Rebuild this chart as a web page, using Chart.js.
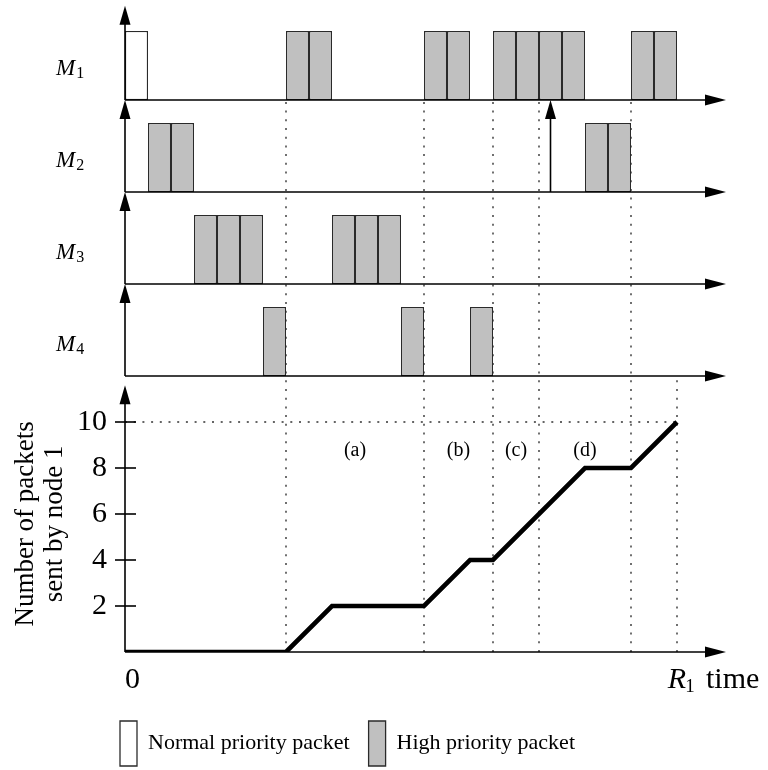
<!DOCTYPE html>
<html lang="en">
<head>
<meta charset="UTF-8">
<title>Packets sent by node 1</title>
<style>
  html, body { margin: 0; padding: 0; background: #fff; }
  #wrap { width: 768px; height: 770px; }
</style>
</head>
<body>
<div id="wrap"><canvas id="chart"></canvas></div>
<script src="https://cdn.jsdelivr.net/npm/chart.js@4.4.1/dist/chart.umd.min.js"></script>
<script>
// start slot of every unit-long packet, one list per node
const nodes = ['M1', 'M2', 'M3', 'M4'];
const normalSlots = [[0], [], [], []];
const highSlots = [
  [7, 8, 13, 14, 16, 17, 18, 19, 22, 23],
  [1, 2, 20, 21],
  [3, 4, 5, 9, 10, 11],
  [6, 12, 15]
];

// packets sent by node 1 over time
const countTimes  = [0, 7, 9, 13, 15, 16, 20, 22, 24];
const countValues = [0, 0, 2, 2, 4, 4, 8, 8, 10];
const countTicks  = [2, 4, 6, 8, 10];

// phase boundaries and labels
const phaseTimes  = [7, 13, 16, 18, 22];
const phaseLabels = ['(a)', '(b)', '(c)', '(d)'];
const endTime  = 24;   // R1
const endCount = 10;
const handoffTime = 18.5; // M2 -> M1 arrow

// layout: one unit is 23px on both axes
const UNIT = 23;
const LEFT = 125, BOTTOM = 652;
const X_MAX = 26.2, Y_MAX = 28.2;
const AXIS_END = 26.13;
const rowBase = [24, 20, 16, 12];
const PACKET_H = 3;
const SERIF = '"Liberation Serif", "Times New Roman", serif';

Chart.defaults.font.family = SERIF;
Chart.defaults.color = '#000';

function packetData(slots) {
  const out = [];
  slots.forEach((row, i) => {
    row.forEach(t => out.push({ x: t + 0.5, y: [rowBase[i], rowBase[i] + PACKET_H] }));
  });
  return out;
}

const dotted = {
  type: 'line',
  borderColor: '#333',
  borderWidth: 1.4,
  borderDash: [2, 6.7],
  pointRadius: 0,
  fill: false
};

const guides = phaseTimes.map(t => Object.assign({}, dotted, {
  data: [{ x: t, y: 0 }, { x: t, y: rowBase[0] }]
}));
guides.push(Object.assign({}, dotted, { data: [{ x: endTime, y: 0 }, { x: endTime, y: rowBase[3] }] }));
guides.push(Object.assign({}, dotted, { data: [{ x: 0, y: endCount }, { x: endTime, y: endCount }] }));

function hArrow(ctx, x0, x1, yy) {
  ctx.beginPath(); ctx.moveTo(x0, yy); ctx.lineTo(x1 - 18, yy); ctx.stroke();
  ctx.beginPath(); ctx.moveTo(x1, yy); ctx.lineTo(x1 - 21, yy - 5.5); ctx.lineTo(x1 - 21, yy + 5.5);
  ctx.closePath(); ctx.fill();
}

function vArrow(ctx, xx, y0, y1) {
  ctx.beginPath(); ctx.moveTo(xx, y0); ctx.lineTo(xx, y1 + 15); ctx.stroke();
  ctx.beginPath(); ctx.moveTo(xx, y1); ctx.lineTo(xx - 5.5, y1 + 19); ctx.lineTo(xx + 5.5, y1 + 19);
  ctx.closePath(); ctx.fill();
}

const figure = {
  id: 'figure',
  afterLayout(chart) {
    // let the count labels use the left margin without being clipped
    chart.scales.y.left = 0;
  },
  afterDraw(chart) {
    const { ctx, scales: { x, y } } = chart;
    const px = v => x.getPixelForValue(v);
    const py = v => y.getPixelForValue(v);
    ctx.save();
    ctx.strokeStyle = '#000';
    ctx.fillStyle = '#000';
    ctx.lineWidth = 1.6;

    // time axes
    [0].concat(rowBase).forEach(b => hArrow(ctx, px(0), px(AXIS_END), py(b)));
    // vertical axes
    vArrow(ctx, px(0), py(0), py(11.6));
    rowBase.forEach((b, i) => vArrow(ctx, px(0), py(b), py(i === 0 ? 28.1 : b + 4)));
    // hand-off arrow from M2 up to M1
    vArrow(ctx, px(handoffTime), py(rowBase[1]), py(rowBase[0]));

    // count tick marks crossing the axis
    countTicks.forEach(v => {
      ctx.beginPath(); ctx.moveTo(px(0) - 10, py(v)); ctx.lineTo(px(0) + 11, py(v)); ctx.stroke();
    });

    // node names
    ctx.textAlign = 'left';
    ctx.textBaseline = 'alphabetic';
    nodes.forEach((n, i) => {
      const ty = py(rowBase[i] + 1.1);
      ctx.font = 'italic 23px ' + SERIF;
      ctx.fillText(n[0], LEFT - 69, ty);
      const w = ctx.measureText(n[0]).width;
      ctx.font = '16px ' + SERIF;
      ctx.fillText(n.slice(1), LEFT - 69 + w + 1, ty + 3);
    });

    // phase labels
    ctx.font = '20px ' + SERIF;
    ctx.textAlign = 'center';
    ctx.textBaseline = 'middle';
    phaseLabels.forEach((l, i) => {
      ctx.fillText(l, px((phaseTimes[i] + phaseTimes[i + 1]) / 2), py(8.74));
    });

    // R1 time
    ctx.textAlign = 'left';
    ctx.textBaseline = 'alphabetic';
    const by = py(-1.57);
    ctx.font = 'italic 30px ' + SERIF;
    ctx.fillText('R', px(23.6), by);
    const rw = ctx.measureText('R').width;
    ctx.font = '19px ' + SERIF;
    ctx.fillText('1', px(23.6) + rw - 1, by + 4);
    ctx.font = '30px ' + SERIF;
    ctx.fillText('time', px(25.26), by);

    // y title
    ctx.font = '27px ' + SERIF;
    ctx.textAlign = 'center';
    const cy = py(5.57);
    [['Number of packets', 33], ['sent by node 1', 62]].forEach(([t, bx]) => {
      ctx.save();
      ctx.translate(bx, cy);
      ctx.rotate(-Math.PI / 2);
      ctx.fillText(t, 0, 0);
      ctx.restore();
    });
    ctx.restore();
  }
};

new Chart(document.getElementById('chart'), {
  type: 'bar',
  data: {
    datasets: [
      {
        label: 'Normal priority packet',
        data: packetData(normalSlots),
        backgroundColor: '#ffffff',
        borderColor: '#2a2a2a',
        borderWidth: 1.3,
        borderSkipped: false,
        inflateAmount: 0,
        grouped: false,
        barPercentage: 1,
        categoryPercentage: 1
      },
      {
        label: 'High priority packet',
        data: packetData(highSlots),
        backgroundColor: '#c0c0c0',
        borderColor: '#2a2a2a',
        borderWidth: 1.3,
        borderSkipped: false,
        inflateAmount: 0,
        grouped: false,
        barPercentage: 1,
        categoryPercentage: 1
      },
      {
        type: 'line',
        label: 'sent',
        data: countTimes.map((t, i) => ({ x: t, y: countValues[i] })),
        borderColor: '#000',
        borderWidth: 4.6,
        borderJoinStyle: 'miter',
        pointRadius: 0,
        tension: 0,
        fill: false
      }
    ].concat(guides)
  },
  options: {
    responsive: true,
    maintainAspectRatio: false,
    animation: false,
    events: [],
    layout: {
      padding: { left: 101, top: BOTTOM - Y_MAX * UNIT, right: 768 - LEFT - X_MAX * UNIT, bottom: -6 }
    },
    scales: {
      x: {
        type: 'linear',
        offset: false,
        min: 0,
        max: X_MAX,
        grid: { display: false, drawTicks: false },
        border: { display: false },
        afterBuildTicks: s => { s.ticks = [{ value: 0 }]; },
        afterFit: s => { s.height = 50; s.paddingLeft = 0; s.paddingRight = 0; },
        ticks: { align: 'start', padding: 10, font: { size: 30 }, autoSkip: false, maxRotation: 0 }
      },
      y: {
        type: 'linear',
        min: 0,
        max: Y_MAX,
        grid: { display: false, drawTicks: false },
        border: { display: false },
        afterBuildTicks: s => { s.ticks = countTicks.map(v => ({ value: v })); },
        afterFit: s => { s.width = LEFT - 101; s.paddingTop = 0; s.paddingBottom = 0; },
        ticks: { padding: 18, font: { size: 30 }, autoSkip: false }
      }
    },
    plugins: {
      tooltip: { enabled: false },
      legend: {
        position: 'bottom',
        align: 'start',
        labels: {
          boxWidth: 17,
          boxHeight: 45,
          padding: 19,
          font: { size: 22 },
          filter: item => item.datasetIndex < 2
        }
      }
    }
  },
  plugins: [figure]
});
</script>
</body>
</html>
